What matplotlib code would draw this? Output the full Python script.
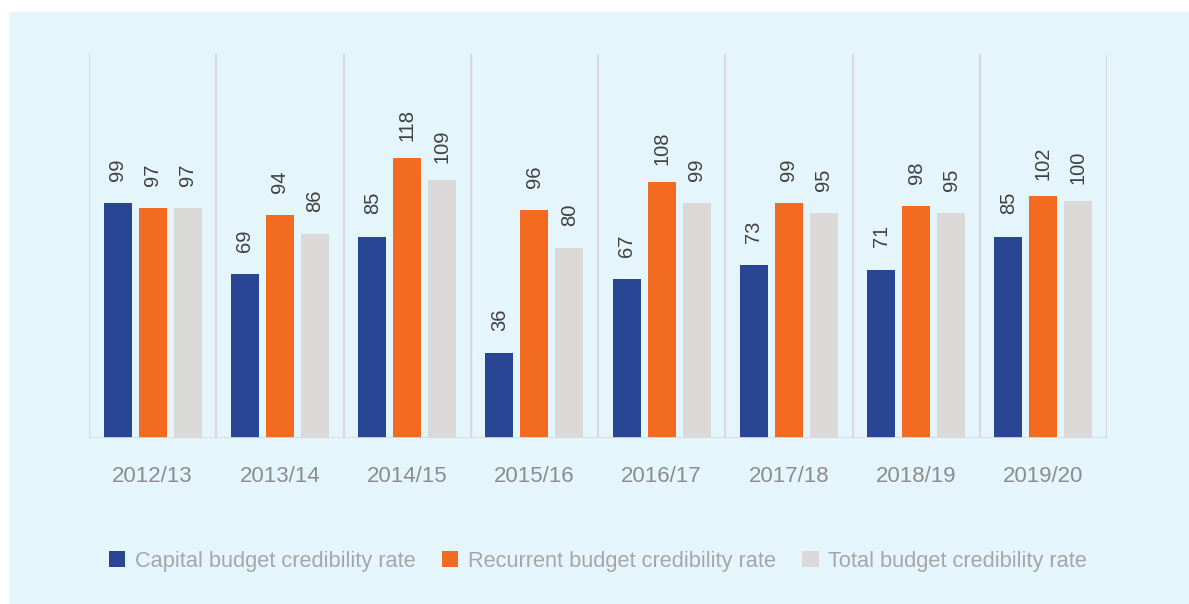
import matplotlib

matplotlib.use("Agg")
import matplotlib.pyplot as plt
import numpy as np
from matplotlib.patches import Patch, Rectangle

YEARS = ["2012/13", "2013/14", "2014/15", "2015/16", "2016/17", "2017/18", "2018/19", "2019/20"]
CAPITAL = [99, 69, 85, 36, 67, 73, 71, 85]
RECURRENT = [97, 94, 118, 96, 108, 99, 98, 102]
TOTAL = [97, 86, 109, 80, 99, 95, 95, 100]
SERIES = [
    ("Capital budget credibility rate", CAPITAL, "#284693"),
    ("Recurrent budget credibility rate", RECURRENT, "#f26b21"),
    ("Total budget credibility rate", TOTAL, "#dad9d8"),
]

plt.rcParams["font.family"] = ["Liberation Sans", "DejaVu Sans"]

W, H = 1189, 604
fig = plt.figure(figsize=(W / 100, H / 100), dpi=100, facecolor="white")
fig.patches.append(Rectangle((9 / W, 0), 1, (H - 12) / H, transform=fig.transFigure,
                             facecolor="#e5f5fc", edgecolor="none", zorder=-1))

ax = fig.add_axes([89 / W, 1 - 438 / H, (1107 - 89) / W, (438 - 54) / H])
ax.set_facecolor("none")
x = np.arange(len(YEARS))
bw, step = 0.22, 0.275
for i, (name, vals, col) in enumerate(SERIES):
    bars = ax.bar(x + (i - 1) * step, vals, width=bw, color=col, zorder=2)
    for b, v in zip(bars, vals):
        ax.annotate(f"{v}", (b.get_x() + b.get_width() / 2, v), xytext=(0, 24),
                    textcoords="offset points", rotation=90, ha="center", va="center",
                    fontsize=14.5, color="#404040")

ymax = 162
for k in range(len(YEARS) + 1):
    ax.plot([k - 0.5, k - 0.5], [0, ymax], color="#d9d9d9", lw=1.6, zorder=1,
            solid_capstyle="butt")
ax.axhline(0, color="#d9d9d9", lw=2, zorder=3)
ax.set_xlim(-0.5, len(YEARS) - 0.5)
ax.set_ylim(0, ymax)
ax.set_xticks(x, YEARS)
ax.tick_params(axis="x", length=0, pad=20, labelsize=16, labelcolor="#8c8c8c")
ax.set_yticks([])
for s in ax.spines.values():
    s.set_visible(False)

handles = [Patch(facecolor=c, edgecolor="none", label=n) for n, _, c in SERIES]
fig.legend(handles=handles, loc="center", bbox_to_anchor=(0.503, 1 - 561 / H), ncol=3,
           frameon=False, fontsize=15.7, labelcolor="#a6a6a6", handlelength=0.75,
           handleheight=0.75, handletextpad=0.45, columnspacing=1.2)

fig.savefig("out.png", dpi=100, facecolor="white")
